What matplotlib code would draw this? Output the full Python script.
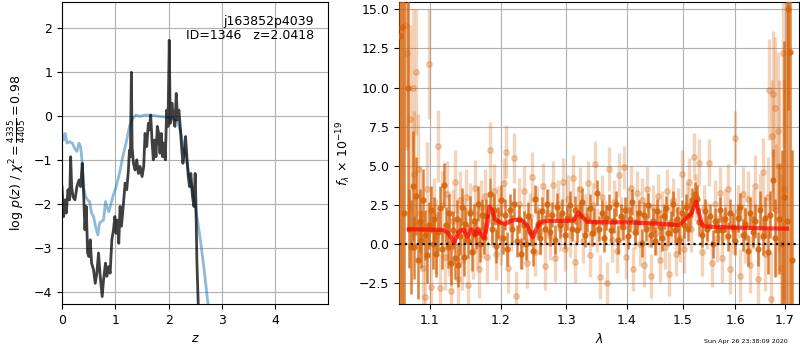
import matplotlib
matplotlib.use('Agg')
import matplotlib.pyplot as plt
from matplotlib.ticker import FixedLocator, FormatStrFormatter, NullLocator
import numpy as np

# --- p(z) panel ---
z_pz = [0.000, 0.031, 0.062, 0.081, 0.112, 0.143, 0.162, 0.181, 0.206, 0.243,
        0.280, 0.318, 0.349, 0.380, 0.405, 0.430, 0.455, 0.480, 0.505, 0.530,
        0.555, 0.592, 0.623, 0.654, 0.685, 0.717, 0.754, 0.779, 0.816, 0.841,
        0.872, 0.903, 0.935, 0.966, 0.991, 1.016, 1.040, 1.065, 1.090, 1.115,
        1.153, 1.184, 1.215, 1.246, 1.265, 1.283, 1.302, 1.315, 1.340, 1.371,
        1.402, 1.433, 1.464, 1.502, 1.533, 1.558, 1.589, 1.620, 1.639, 1.664,
        1.688, 1.713, 1.738, 1.763, 1.788, 1.813, 1.838, 1.863, 1.888, 1.913,
        1.938, 1.963, 1.988, 2.012, 2.031, 2.062, 2.087, 2.118, 2.143, 2.168,
        2.193, 2.218, 2.243, 2.268, 2.293, 2.318, 2.343, 2.368, 2.393, 2.417,
        2.449, 2.474, 2.498, 2.511, 2.530, 2.555, 2.573, 2.604]
logpz = [-1.60, -2.28, -1.90, -2.20, -1.67, -1.90, -0.92, -1.60, -1.83, -1.90,
         -1.60, -1.45, -1.60, -1.07, -1.75, -2.58, -2.05, -3.11, -3.19, -2.81,
         -3.34, -3.49, -3.80, -3.57, -3.11, -3.64, -4.10, -3.72, -3.34, -3.64,
         -3.42, -3.57, -2.81, -2.58, -2.28, -2.66, -2.36, -2.89, -2.05, -2.50,
         -1.98, -1.52, -1.67, -1.22, -0.77, -0.92, 1.00, -0.69, -1.07, -1.22,
         -0.99, -1.30, -1.14, -1.37, -1.14, -0.39, -0.69, -0.16, -0.31, 0.03,
         -0.54, -0.99, -0.54, -0.92, -0.23, -0.39, -0.84, -0.39, -0.92, -0.61,
         -0.99, 0.14, -0.23, 1.73, -0.16, 0.30, 0.00, -0.23, 0.52, -0.08,
         0.14, -0.23, -0.69, -1.07, -0.84, -0.46, -0.92, -1.37, -1.60, -1.30,
         -1.83, -2.05, -1.30, -1.90, -3.27, -4.25, -4.90, -5.50]

z_chi = [0.000, 0.031, 0.062, 0.093, 0.143, 0.193, 0.237, 0.280, 0.318, 0.349,
         0.380, 0.405, 0.442, 0.480, 0.517, 0.555, 0.592, 0.629, 0.673, 0.704,
         0.741, 0.779, 0.816, 0.841, 0.879, 0.916, 0.953, 1.016, 1.078, 1.140,
         1.202, 1.265, 1.327, 1.389, 1.452, 1.576, 1.701, 1.826, 1.950, 2.075,
         2.168, 2.231, 2.293, 2.355, 2.417, 2.480, 2.542, 2.604, 2.667, 2.729,
         2.791]
chi_pz = [-0.39, -0.54, -0.39, -0.61, -0.58, -0.61, -0.73, -0.80, -0.61, -0.69,
          -1.07, -1.60, -1.83, -1.90, -1.94, -2.20, -2.28, -2.50, -2.70, -2.43,
          -2.39, -2.36, -1.94, -2.05, -2.17, -2.00, -1.83, -1.60, -1.30, -0.92,
          -0.61, -0.23, -0.05, 0.03, 0.00, 0.03, 0.02, 0.00, -0.02, -0.05,
          -0.12, -0.39, -0.77, -1.14, -1.52, -1.90, -2.36, -2.89, -3.49, -4.17,
          -4.80]

# --- spectrum panel: darker points ---
wave_a = [1.0605, 1.0625, 1.0650, 1.0710, 1.0725, 1.0745, 1.0770, 1.0790, 1.0815, 1.0840,
          1.0860, 1.0885, 1.0910, 1.0935, 1.0960, 1.0985, 1.1010, 1.1035, 1.1060, 1.1085,
          1.1110, 1.1140, 1.1165, 1.1190, 1.1215, 1.1240, 1.1265, 1.1290, 1.1315, 1.1340,
          1.1365, 1.1390, 1.1415, 1.1440, 1.1465, 1.1490, 1.1520, 1.1550, 1.1580, 1.1610,
          1.1640, 1.1670, 1.1700, 1.1730, 1.1760, 1.1790, 1.1835, 1.1865, 1.1895, 1.1925,
          1.1955, 1.2000, 1.2030, 1.2060, 1.2095, 1.2130, 1.2165, 1.2200, 1.2235, 1.2270,
          1.2305, 1.2340, 1.2375, 1.2410, 1.2445, 1.2480, 1.2520, 1.2555, 1.2590, 1.2625,
          1.2660, 1.2700, 1.2740, 1.2780, 1.2820, 1.2860, 1.2900, 1.2940, 1.2980, 1.3020,
          1.3060, 1.3100, 1.3140, 1.3180, 1.3220, 1.3260, 1.3300, 1.3340, 1.3380, 1.3420,
          1.3460, 1.3500, 1.3540, 1.3580, 1.3620, 1.3660, 1.3700, 1.3740, 1.3780, 1.3820,
          1.3860, 1.3900, 1.3940, 1.3980, 1.4020, 1.4060, 1.4100, 1.4140, 1.4180, 1.4220,
          1.4260, 1.4300, 1.4340, 1.4380, 1.4420, 1.4460, 1.4500, 1.4540, 1.4580, 1.4620,
          1.4660, 1.4700, 1.4740, 1.4780, 1.4820, 1.4860, 1.4900, 1.4940, 1.4980, 1.5020,
          1.5060, 1.5100, 1.5140, 1.5180, 1.5230, 1.5270, 1.5310, 1.5360, 1.5410, 1.5460,
          1.5510, 1.5560, 1.5610, 1.5660, 1.5710, 1.5735, 1.5800, 1.5850, 1.5900, 1.5950,
          1.6000, 1.6050, 1.6100, 1.6150, 1.6200, 1.6250, 1.6300, 1.6350, 1.6400, 1.6450,
          1.6500, 1.6550, 1.6600, 1.6650, 1.6700, 1.6750, 1.6790, 1.6890, 1.6950, 1.6990,
          1.7040, 1.7060, 1.7110, 1.7150]
flux_a = [13.30, 13.85, 2.00, 10.00, 1.00, -0.20, 3.70, -0.20, 3.10, -1.00,
          1.50, 0.30, 2.80, 0.60, -0.70, 1.20, 2.20, 0.00, 1.60, -0.60,
          0.80, 2.30, -0.30, 3.80, 1.20, -0.20, 2.00, -1.20, 0.90, -0.90,
          1.60, -1.30, 0.50, 2.40, -0.80, 1.30, 0.20, 2.00, -0.50, 1.50,
          0.70, 2.60, 0.00, 1.90, 0.40, 1.80, 3.20, 1.00, 2.20, -0.10,
          1.40, 2.80, 0.40, 1.90, -0.30, 2.20, 1.00, 2.60, 0.20, 1.60,
          -0.60, 1.20, 0.00, 1.80, 0.80, -0.40, 2.90, 1.30, 0.40, 2.10,
          1.00, 2.60, 0.80, 1.90, 0.30, 2.40, 1.20, 2.00, 0.60, 1.70,
          2.50, 1.00, 2.20, 0.90, 1.80, 2.70, 0.60, 1.60, 2.30, 0.70,
          1.40, 3.30, 1.00, 2.00, 0.40, 1.70, 2.40, 0.90, 1.50, 2.60,
          0.30, 1.80, 1.10, 2.20, 0.50, 1.60, 2.70, 0.80, 1.40, 2.00,
          0.10, 1.90, 1.00, 2.50, 0.60, 1.50, 0.20, 2.10, 1.10, 0.40,
          1.80, 2.30, 0.70, 1.30, 2.60, 0.90, 1.60, 0.30, 2.00, 1.20,
          2.40, 1.00, 1.90, 2.80, 3.20, 2.90, 1.40, 0.60, 2.10, 1.00,
          1.80, 0.00, 1.50, 0.90, 2.20, 0.90, 1.60, 0.50, 2.00, 1.10,
          0.20, 1.70, 2.40, 0.60, 1.30, -0.40, 2.00, 0.80, 1.50, -0.30,
          2.20, 0.50, 1.70, -0.50, 1.90, 4.10, 0.40, 1.60, 0.00, 3.00,
          1.50, 15.00, 12.30, -1.00]
err_a = [20.0, 20.0, 15.0, 9.0, 2.5, 3.0, 3.5, 2.0, 2.5, 2.5,
         2.0, 1.8, 2.0, 1.6, 1.8, 1.5, 1.5, 1.6, 1.4, 1.5,
         1.3, 1.4, 1.3, 1.4, 1.2, 1.3, 1.2, 1.4, 1.2, 1.3,
         1.2, 1.4, 1.2, 1.2, 1.2, 1.1, 1.1, 1.1, 1.2, 1.1,
         1.0, 1.1, 1.1, 1.0, 1.0, 1.1, 1.0, 1.0, 1.0, 1.1,
         1.0, 1.0, 1.0, 1.0, 1.1, 1.0, 0.9, 1.0, 1.0, 0.9,
         1.0, 0.9, 1.0, 0.9, 0.9, 1.0, 0.9, 0.9, 1.0, 0.9,
         0.9, 0.9, 0.9, 0.8, 0.9, 0.9, 0.8, 0.9, 0.9, 0.8,
         0.9, 0.8, 0.9, 0.8, 0.9, 0.9, 0.8, 0.8, 0.9, 0.8,
         0.9, 0.8, 0.8, 0.8, 0.9, 0.8, 0.8, 0.8, 0.8, 0.8,
         0.9, 0.8, 0.8, 0.8, 0.8, 0.8, 0.8, 0.8, 0.8, 0.8,
         0.9, 0.8, 0.8, 0.8, 0.8, 0.8, 0.9, 0.8, 0.8, 0.8,
         0.8, 0.8, 0.8, 0.8, 0.8, 0.8, 0.8, 0.9, 0.8, 0.8,
         0.8, 0.8, 0.8, 0.8, 0.8, 0.9, 0.9, 0.8, 0.8, 0.8,
         0.8, 0.9, 0.8, 0.8, 0.8, 0.9, 0.8, 0.9, 0.9, 0.9,
         0.9, 0.9, 0.9, 1.0, 1.0, 1.0, 1.0, 1.0, 1.1, 1.1,
         1.2, 1.2, 1.3, 1.4, 1.5, 2.0, 2.5, 3.5, 6.0, 10.0,
         18.0, 6.4, 20.0, 7.0]

# --- spectrum panel: lighter points ---
wave_b = [1.0680, 1.0700, 1.0735, 1.0769, 1.0790, 1.0813, 1.0840, 1.0870, 1.0900, 1.0933,
          1.0960, 1.0991, 1.1020, 1.1050, 1.1080, 1.1113, 1.1140, 1.1170, 1.1200, 1.1230,
          1.1260, 1.1290, 1.1320, 1.1350, 1.1380, 1.1410, 1.1440, 1.1470, 1.1500, 1.1530,
          1.1560, 1.1590, 1.1620, 1.1650, 1.1680, 1.1710, 1.1740, 1.1770, 1.1800, 1.1835,
          1.1870, 1.1900, 1.1930, 1.1960, 1.2000, 1.2040, 1.2075, 1.2110, 1.2150, 1.2190,
          1.2230, 1.2270, 1.2310, 1.2350, 1.2390, 1.2430, 1.2470, 1.2510, 1.2550, 1.2590,
          1.2630, 1.2670, 1.2710, 1.2750, 1.2790, 1.2830, 1.2870, 1.2910, 1.2950, 1.2990,
          1.3030, 1.3070, 1.3110, 1.3150, 1.3190, 1.3230, 1.3270, 1.3310, 1.3350, 1.3390,
          1.3430, 1.3470, 1.3510, 1.3550, 1.3590, 1.3630, 1.3670, 1.3710, 1.3750, 1.3790,
          1.3830, 1.3870, 1.3910, 1.3950, 1.3990, 1.4030, 1.4070, 1.4110, 1.4150, 1.4190,
          1.4230, 1.4270, 1.4310, 1.4350, 1.4390, 1.4430, 1.4470, 1.4510, 1.4550, 1.4590,
          1.4630, 1.4670, 1.4710, 1.4750, 1.4790, 1.4830, 1.4870, 1.4910, 1.4950, 1.4990,
          1.5030, 1.5070, 1.5110, 1.5150, 1.5200, 1.5250, 1.5300, 1.5350, 1.5400, 1.5450,
          1.5500, 1.5550, 1.5600, 1.5650, 1.5700, 1.5750, 1.5800, 1.5850, 1.5900, 1.5950,
          1.6000, 1.6050, 1.6100, 1.6150, 1.6200, 1.6250, 1.6300, 1.6350, 1.6400, 1.6450,
          1.6500, 1.6550, 1.6600, 1.6650, 1.6680, 1.6710, 1.6740, 1.6760, 1.6790, 1.6820,
          1.6850, 1.6880, 1.6920, 1.6960, 1.6990]
flux_b = [14.00, 12.20, 8.00, 10.00, 4.50, 11.00, 4.80, 2.00, -1.50, -3.35,
          3.50, 11.50, -2.70, 1.80, 0.50, 6.25, -2.80, 2.50, -0.80, 3.20,
          0.00, -3.00, 1.50, 4.00, -2.20, 2.80, -1.00, 0.90, 3.00, -2.60,
          2.10, -0.40, 3.60, 0.30, -1.60, 2.40, 0.80, 3.10, -0.80, 6.00,
          1.50, 3.40, -0.60, 2.00, 0.40, 3.90, 5.90, -1.50, 1.20, 5.50,
          -3.30, 2.60, 0.00, 3.40, -1.20, 1.80, 4.30, -0.50, 2.20, 0.80,
          3.70, -1.40, 2.00, 0.50, 3.80, -0.90, 2.60, 1.00, 4.00, -0.30,
          2.90, 0.60, 4.20, -1.10, 2.30, 3.50, 0.20, 1.80, 3.90, -0.70,
          2.50, 5.10, 0.90, -2.10, 3.00, 1.40, -2.50, 4.80, 0.30, 2.70,
          -0.40, 4.40, 1.60, 4.90, -0.80, 2.20, 3.60, -1.60, 1.10, 3.30,
          0.00, 2.80, -1.30, 3.50, 1.20, -2.00, 2.40, 0.70, 3.10, -1.00,
          2.00, -0.20, 3.40, -1.90, 1.50, 2.80, -0.60, 2.20, 0.40, 4.50,
          -0.30, 2.50, 4.00, 1.00, 5.60, 3.00, 5.20, -0.50, 2.30, 1.20,
          5.20, -1.20, 2.60, 0.40, 3.30, -0.90, 1.90, 3.50, -1.60, 1.00,
          6.80, 2.10, -2.00, 3.20, 0.60, 2.90, -1.30, 1.60, 3.70, -2.20,
          2.40, 4.60, -0.60, 3.00, 9.87, -3.50, 6.90, 9.60, 8.70, 2.20,
          7.25, 5.00, -1.50, 12.20, 3.50]
err_b = [8.0, 6.0, 6.0, 5.0, 4.0, 4.0, 3.5, 3.0, 2.8, 2.6,
         3.0, 3.5, 2.5, 2.4, 2.4, 2.3, 2.2, 2.2, 2.1, 2.1,
         2.0, 2.0, 2.0, 2.0, 1.9, 1.9, 1.9, 1.9, 1.8, 1.8,
         1.8, 1.8, 1.8, 1.8, 1.8, 1.7, 1.7, 1.7, 1.7, 1.8,
         1.7, 1.7, 1.7, 1.7, 1.7, 1.6, 1.7, 1.6, 1.6, 1.6,
         1.6, 1.6, 1.6, 1.6, 1.6, 1.5, 1.6, 1.5, 1.5, 1.5,
         1.5, 1.5, 1.5, 1.5, 1.5, 1.5, 1.5, 1.4, 1.5, 1.4,
         1.5, 1.4, 1.5, 1.4, 1.4, 1.4, 1.4, 1.4, 1.4, 1.4,
         1.4, 1.5, 1.4, 1.4, 1.4, 1.4, 1.4, 1.4, 1.4, 1.4,
         1.4, 1.4, 1.4, 1.4, 1.4, 1.4, 1.4, 1.4, 1.4, 1.4,
         1.4, 1.4, 1.4, 1.4, 1.4, 1.4, 1.4, 1.4, 1.4, 1.4,
         1.4, 1.4, 1.4, 1.4, 1.4, 1.4, 1.4, 1.4, 1.5, 1.5,
         1.5, 1.5, 1.5, 1.5, 1.5, 1.5, 1.5, 1.5, 1.5, 1.5,
         1.5, 1.5, 1.5, 1.5, 1.6, 1.6, 1.6, 1.6, 1.6, 1.6,
         1.7, 1.7, 1.7, 1.7, 1.8, 1.8, 1.8, 1.9, 2.0, 2.0,
         2.1, 2.2, 2.4, 2.6, 3.2, 3.0, 3.6, 4.0, 4.5, 4.2,
         5.0, 5.5, 6.0, 6.0, 7.0]

# --- best-fit model ---
wave_m = [1.0723, 1.1181, 1.1250, 1.1330, 1.1390, 1.1460, 1.1516, 1.1579, 1.1626, 1.1665,
          1.1722, 1.1756, 1.1795, 1.1832, 1.1862, 1.1916, 1.1989, 1.2063, 1.2137, 1.2212,
          1.2314, 1.2389, 1.2440, 1.2481, 1.2527, 1.2594, 1.2698, 1.2960, 1.3120, 1.3201,
          1.3257, 1.3338, 1.3503, 1.4068, 1.4656, 1.4900, 1.4960, 1.5084, 1.5164, 1.5207,
          1.5252, 1.5301, 1.5365, 1.5460, 1.5909, 1.6574, 1.7045]
flux_m = [0.96, 0.92, 0.70, 0.10, 0.80, 0.96, 0.47, 0.96, 0.58, 0.98,
          0.53, 0.40, 1.13, 2.41, 2.24, 1.60, 1.40, 1.30, 1.48, 1.56,
          1.52, 1.24, 0.70, 0.45, 0.92, 1.42, 1.49, 1.49, 1.51, 2.03,
          1.77, 1.43, 1.41, 1.39, 1.30, 1.22, 1.30, 1.73, 1.98, 2.41,
          2.73, 1.98, 1.20, 1.13, 1.07, 1.02, 1.00]

wave_ticks = [1.1, 1.2, 1.3, 1.4, 1.5, 1.6, 1.7]

plt.rcParams['font.size'] = 9
fig = plt.figure(figsize=(8, 3.5), dpi=100)
ax1 = fig.add_axes([0.0775, 0.1314, 0.3325, 0.8629])
ax2 = fig.add_axes([0.49875, 0.1314, 0.5, 0.8629])

# p(z)
ax1.plot(z_chi, chi_pz, color='tab:blue', alpha=0.5, linewidth=2)
ax1.plot(z_pz, logpz, color='k', alpha=0.75, linewidth=2)
ax1.set_xlim(0, 4.99)
ax1.set_ylim(-4.27, 2.6)
ax1.set_xticks([0, 1, 2, 3, 4])
ax1.set_yticks([-4, -3, -2, -1, 0, 1, 2])
ax1.grid(True, color='#b0b0b0')
ax1.set_axisbelow(True)
ax1.set_xlabel(r'$z$')
ax1.set_ylabel(r'$\log\,p(z)$ / $\chi^2=\frac{4335}{4405}=0.98$')
ax1.text(0.946, 0.958, 'j163852p4039\nID=1346   z=2.0418',
         transform=ax1.transAxes, ha='right', va='top', fontsize=9, linespacing=1.1)

# spectrum
orange = '#d5630a'
ax2.errorbar(wave_b, flux_b, yerr=err_b, fmt='o', color=orange, alpha=0.27,
             markersize=4, elinewidth=2.4, capsize=0, zorder=2)
ax2.errorbar(wave_a, flux_a, yerr=err_a, fmt='o', color=orange, alpha=0.8,
             markersize=3.5, elinewidth=1.8, capsize=0, zorder=3)
ax2.plot(wave_m, flux_m, color='red', alpha=0.7, linewidth=3, zorder=5)
ax2.axhline(0, color='k', linestyle=':', linewidth=1.6, zorder=4)
ax2.set_xscale('log')
ax2.xaxis.set_major_locator(FixedLocator(wave_ticks))
ax2.xaxis.set_major_formatter(FormatStrFormatter('%.1f'))
ax2.xaxis.set_minor_locator(NullLocator())
ax2.set_xlim(1.059, 1.730)
ax2.set_ylim(-3.81, 15.46)
ax2.set_yticks([-2.5, 0.0, 2.5, 5.0, 7.5, 10.0, 12.5, 15.0])
ax2.grid(True, color='#b0b0b0')
ax2.set_axisbelow(True)
ax2.set_xlabel(r'$\lambda$')
ax2.set_ylabel(r'$f_\lambda\,\times\,10^{-19}$')

fig.text(0.985, 0.018, 'Sun Apr 26 23:38:09 2020', ha='right', va='bottom', fontsize=4.6)

fig.savefig('out.png', dpi=100)
